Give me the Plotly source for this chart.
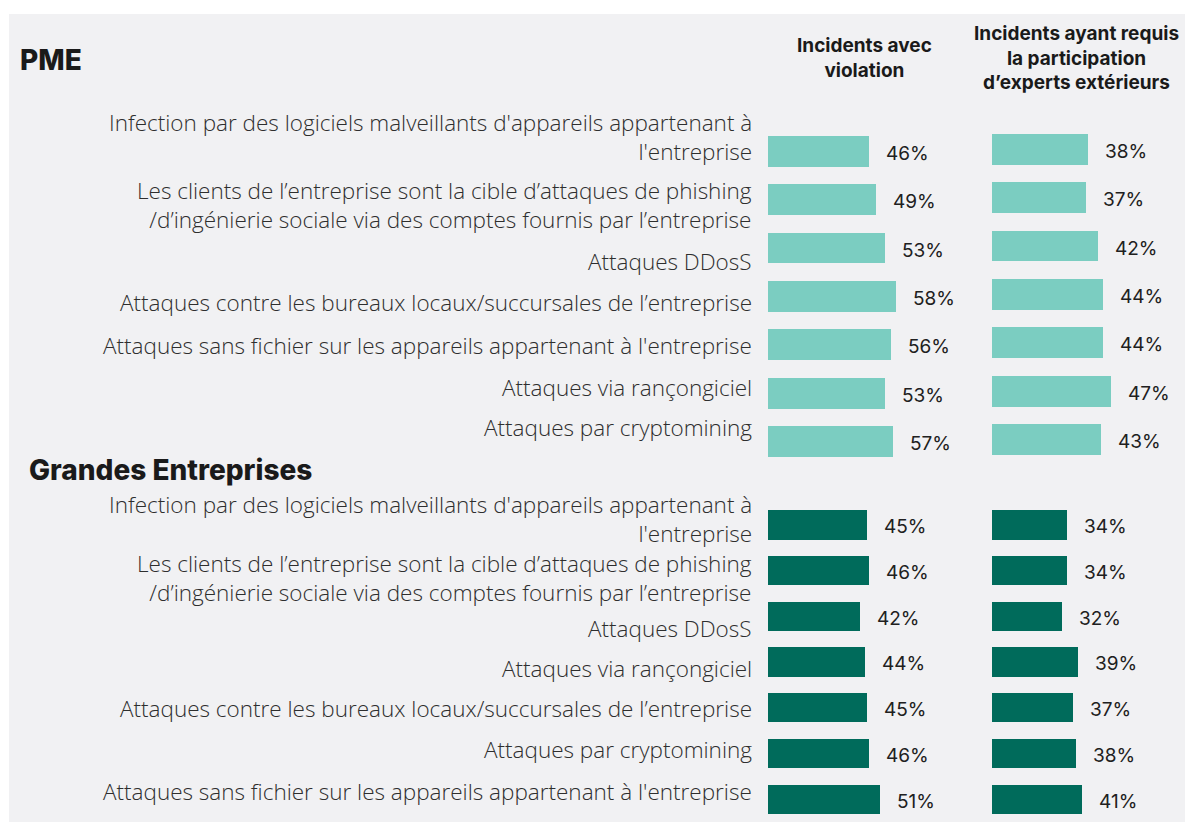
import plotly.graph_objects as go

# --- data ---
pme_labels = [
    "Infection par des logiciels malveillants d'appareils appartenant à<br>l'entreprise",
    "Les clients de l’entreprise sont la cible d’attaques de phishing<br>/d’ingénierie sociale via des comptes fournis par l’entreprise",
    "Attaques DDosS",
    "Attaques contre les bureaux locaux/succursales de l’entreprise",
    "Attaques sans fichier sur les appareils appartenant à l'entreprise",
    "Attaques via rançongiciel",
    "Attaques par cryptomining",
]
pme_violation = [46, 49, 53, 58, 56, 53, 57]
pme_experts = [38, 37, 42, 44, 44, 47, 43]

ge_labels = [
    "Infection par des logiciels malveillants d'appareils appartenant à<br>l'entreprise",
    "Les clients de l’entreprise sont la cible d’attaques de phishing<br>/d’ingénierie sociale via des comptes fournis par l’entreprise",
    "Attaques DDosS",
    "Attaques via rançongiciel",
    "Attaques contre les bureaux locaux/succursales de l’entreprise",
    "Attaques par cryptomining",
    "Attaques sans fichier sur les appareils appartenant à l'entreprise",
]
ge_violation = [45, 46, 42, 44, 45, 46, 51]
ge_experts = [34, 34, 32, 39, 37, 38, 41]

group_titles = ["PME", "Grandes Entreprises"]
column_titles = ["Incidents avec<br>violation",
                 "Incidents ayant requis<br>la participation<br>d’experts extérieurs"]

# --- styling ---
# the page body adds an 8px margin, so the figure is a bit smaller than the window
OFFSET = 8
W, H = 1193 - OFFSET, 822 - OFFSET
PME_COLOR = '#7bcdc1'
GE_COLOR = '#006b5b'
PANEL = '#f1f1f3'
LABEL_FONT = 'Open Sans'
BOLD_FONT = 'Inter'

# per-row vertical nudges of the category labels (px, up is positive)
pme_label_shift = [14, -5, -13, -6, -1, 6, 14]
ge_label_shift = [6, -8, -12, -7, -1, 4, 8]


def px_x(x):
    # window pixel -> paper fraction
    return (x - OFFSET) / W


def px_y(y):
    return 1 - (y - OFFSET) / H


def add_group(fig, labels, left_vals, right_vals, color, axes, label_shift):
    xa1, ya1, xa2, ya2 = axes
    for vals, xa, ya in [(left_vals, xa1, ya1), (right_vals, xa2, ya2)]:
        fig.add_trace(go.Bar(
            x=vals, y=labels, orientation='h', width=0.64,
            marker_color=color, marker_line_width=0,
            xaxis=xa, yaxis=ya, showlegend=False, hoverinfo='skip'))
        for v, lab in zip(vals, labels):
            fig.add_annotation(
                x=v, y=lab, xref=xa, yref=ya, xanchor='left', yanchor='middle',
                xshift=15, yshift=-2, showarrow=False, text=f"{v}%",
                font=dict(family=BOLD_FONT, size=19, color='#202020', weight=400))

    for lab, dy in zip(labels, label_shift):
        fig.add_annotation(
            x=px_x(753), y=lab, xref='paper', yref=ya1, xanchor='right', yanchor='middle',
            yshift=dy, showarrow=False, text=lab, align='right', borderpad=0,
            font=dict(family=LABEL_FONT, size=22.5, color='#2e2e2e', weight=300))


def axis_cat(labels, domain, anchor):
    return dict(type='category', categoryorder='array', categoryarray=labels,
                range=[6.5, -0.5], domain=domain, anchor=anchor,
                showticklabels=False, showgrid=False, zeroline=False, showline=False)


def axis_val(domain, span, anchor):
    return dict(range=[0, span], domain=domain, anchor=anchor,
                showticklabels=False, showgrid=False, zeroline=False, showline=False)


def plot():
    fig = go.Figure()

    add_group(fig, pme_labels, pme_violation, pme_experts, PME_COLOR,
              ('x', 'y', 'x2', 'y2'), pme_label_shift)
    add_group(fig, ge_labels, ge_violation, ge_experts, GE_COLOR,
              ('x3', 'y3', 'x4', 'y4'), ge_label_shift)

    col1 = [px_x(768), px_x(968)]
    col2 = [px_x(992), px_x(1192)]

    fig.update_layout(
        width=W, height=H,
        margin=dict(l=0, r=0, t=0, b=0),
        paper_bgcolor='white', plot_bgcolor='rgba(0,0,0,0)',
        bargap=0,
        xaxis=axis_val(col1, 200 / 2.2, 'y'),
        xaxis2=axis_val(col2, 200 / 2.53, 'y2'),
        xaxis3=axis_val(col1, 200 / 2.2, 'y3'),
        xaxis4=axis_val(col2, 200 / 2.2, 'y4'),
        yaxis=axis_cat(pme_labels, [px_y(465.9), px_y(127.1)], 'x'),
        yaxis2=axis_cat(pme_labels, [px_y(463.9), px_y(125.1)], 'x2'),
        yaxis3=axis_cat(ge_labels, [0, px_y(501.8)], 'x3'),
        yaxis4=axis_cat(ge_labels, [0, px_y(501.8)], 'x4'),
    )

    # grey panel behind everything
    fig.add_shape(type='rect', xref='paper', yref='paper',
                  x0=px_x(9), x1=1, y0=0, y1=px_y(14),
                  fillcolor=PANEL, line_width=0, layer='below')

    fig.add_annotation(x=px_x(18), y=px_y(60), xref='paper', yref='paper',
                       xanchor='left', yanchor='middle', showarrow=False,
                       text=group_titles[0],
                       font=dict(family=BOLD_FONT, size=28, color='#1a1a1a', weight=800))
    fig.add_annotation(x=px_x(27), y=px_y(470), xref='paper', yref='paper',
                       xanchor='left', yanchor='middle', showarrow=False,
                       text=group_titles[1],
                       font=dict(family=BOLD_FONT, size=28, color='#1a1a1a', weight=800))

    for title, cx, cy in [(column_titles[0], 864, 58), (column_titles[1], 1076, 57.5)]:
        fig.add_annotation(x=px_x(cx), y=px_y(cy), xref='paper', yref='paper',
                           xanchor='center', yanchor='middle', showarrow=False,
                           text=title, align='center',
                           font=dict(family=BOLD_FONT, size=19, color='#1a1a1a', weight=700))

    fig.write_html("out.html")


if __name__ == '__main__':
    plot()
